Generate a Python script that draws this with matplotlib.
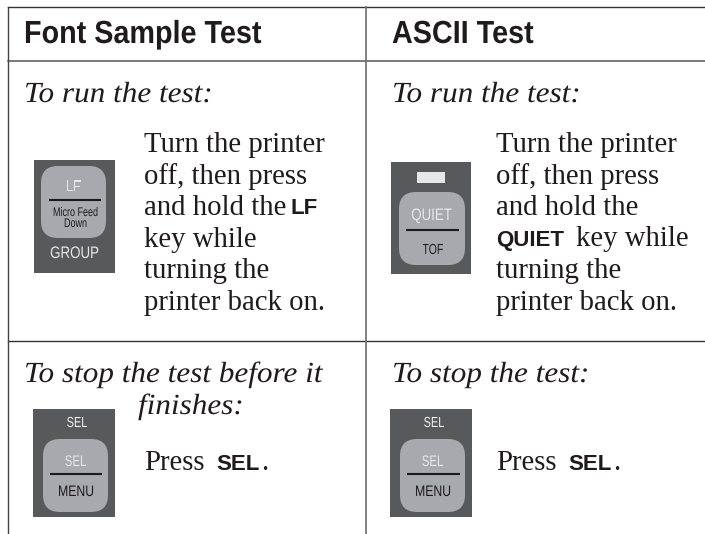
import matplotlib
matplotlib.use("Agg")
import matplotlib.pyplot as plt
from matplotlib.patches import FancyBboxPatch, Rectangle
from matplotlib.patheffects import AbstractPathEffect
from matplotlib.transforms import Affine2D

headers = ["Font Sample Test", "ASCII Test"]
run_label = "To run the test:"
left_steps = ["Turn the printer", "off, then press", "and hold the", "key while", "turning the", "printer back on."]
right_steps = ["Turn the printer", "off, then press", "and hold the", "", "turning the", "printer back on."]
stop_left = ["To stop the test before it", "finishes:"]
stop_right = "To stop the test:"

SERIF = "Liberation Serif"
SANS = "Liberation Sans"
DARK = "#58595b"
KEY = "#a7a9ac"
INK = "#1f1b1c"
LIGHT = "#e6e7e8"
BODY = 20.7
ITALIC = 21


class Squeeze(AbstractPathEffect):
    # horizontal scaling about a fixed x, there is no condensed face installed
    def __init__(self, x_px, factor):
        super().__init__()
        self.x_px = x_px
        self.factor = factor

    def draw_path(self, renderer, gc, tpath, affine, rgbFace=None):
        t = affine + Affine2D().translate(-self.x_px, 0).scale(self.factor, 1).translate(self.x_px, 0)
        renderer.draw_path(gc, tpath, t, rgbFace)


def key_cap(ax, x0, x1, y0, y1, line_y, line_x0, line_x1):
    ax.add_patch(FancyBboxPatch((x0 + 17, y0 + 17), x1 - x0 - 34, y1 - y0 - 34,
                                boxstyle="round,pad=17,rounding_size=17",
                                fc=KEY, ec="none", zorder=2))
    ax.plot([line_x0, line_x1], [line_y, line_y], color="#1a1a1a", lw=1.5, zorder=3,
            solid_capstyle="butt")


def panel(ax, x0, x1, y0, y1):
    ax.add_patch(Rectangle((x0, y0), x1 - x0, y1 - y0, fc=DARK, ec="none", zorder=1))


def label(ax, x, y, s, color, size, squeeze):
    ax.text(x, y, s, color=color, fontsize=size, family=SANS, ha="center", va="baseline", zorder=4,
            path_effects=[Squeeze(x, squeeze)])


def italic(ax, x, y, s):
    ax.text(x, y, s, family=SERIF, style="italic", fontsize=ITALIC, color=INK, va="baseline",
            path_effects=[Squeeze(x, 1.07)])


def body(ax, x, y, s):
    ax.text(x, y, s, family=SERIF, fontsize=BODY, color=INK, va="baseline")


def bold(ax, x, y, s):
    ax.text(x, y, s, family=SANS, weight="bold", fontsize=16, color=INK, va="baseline")


def main() -> None:
    fig = plt.figure(figsize=(7.05, 5.34), dpi=100)
    ax = fig.add_axes([0, 0, 1, 1])
    ax.set_xlim(0, 705)
    ax.set_ylim(534, 0)
    ax.axis("off")

    # table rules
    ax.plot([8, 705], [7, 7], color="#333333", lw=1.0)
    ax.plot([8, 705], [60.5, 60.5], color="#555555", lw=1.1)
    ax.plot([8, 705], [340.5, 340.5], color="#333333", lw=1.0)
    ax.plot([8, 8], [7, 534], color="#444444", lw=1.0)
    ax.plot([365.5, 365.5], [7, 534], color="#777777", lw=1.3)

    # headers
    for x, s in zip([24, 392], headers):
        ax.text(x, 43, s, family=SANS, weight="bold", fontsize=23, color=INK, va="baseline",
                path_effects=[Squeeze(x, 0.9)])

    # run section
    italic(ax, 24, 102, run_label)
    italic(ax, 392, 102, run_label)
    for i, s in enumerate(left_steps):
        body(ax, 144, 152 + i * 31.6, s)
    for i, s in enumerate(right_steps):
        if s:
            body(ax, 496, 152 + i * 31.6, s)
    bold(ax, 291, 214, "LF")
    bold(ax, 496, 246, "QUIET")
    body(ax, 576, 246, left_steps[3])

    # stop section
    italic(ax, 24, 382, stop_left[0])
    italic(ax, 138, 414, stop_left[1])
    italic(ax, 392, 382, stop_right)
    for x in [144, 496]:
        body(ax, x, 470, "Press")
        bold(ax, x + 72, 470, "SEL")
        body(ax, x + 117, 470, ".")

    # LF key
    panel(ax, 34, 115, 160, 273)
    key_cap(ax, 41, 106, 166, 238, 200, 49, 101)
    label(ax, 73.5, 191, "LF", LIGHT, 11, 0.85)
    label(ax, 75.5, 216, "Micro Feed", INK, 9, 0.72)
    label(ax, 75.5, 227, "Down", INK, 9, 0.72)
    label(ax, 74.5, 258, "GROUP", LIGHT, 12, 0.8)

    # QUIET key
    panel(ax, 391, 471, 162, 274)
    ax.add_patch(Rectangle((417, 172), 28, 11, fc=LIGHT, ec="none", zorder=2))
    key_cap(ax, 399, 465, 192, 265, 230, 406, 459)
    label(ax, 431.5, 220, "QUIET", LIGHT, 12, 0.8)
    label(ax, 433, 254, "TOF", INK, 10.5, 0.72)

    # SEL keys
    for x0, x1, cap0, cap1, lx0, lx1, xc in [(33, 115, 43, 108, 50, 102, 76),
                                             (390, 472, 400, 465, 407, 460, 433)]:
        panel(ax, x0, x1, 409, 517)
        key_cap(ax, cap0, cap1, 439, 512, 474, lx0, lx1)
        label(ax, xc + 1, 427, "SEL", "#f1f2f2", 10.5, 0.75)
        label(ax, xc - 0.5, 466, "SEL", LIGHT, 11, 0.75)
        label(ax, xc, 496, "MENU", INK, 11, 0.8)

    fig.savefig("out.png", dpi=100)
    plt.close(fig)


if __name__ == "__main__":
    main()
